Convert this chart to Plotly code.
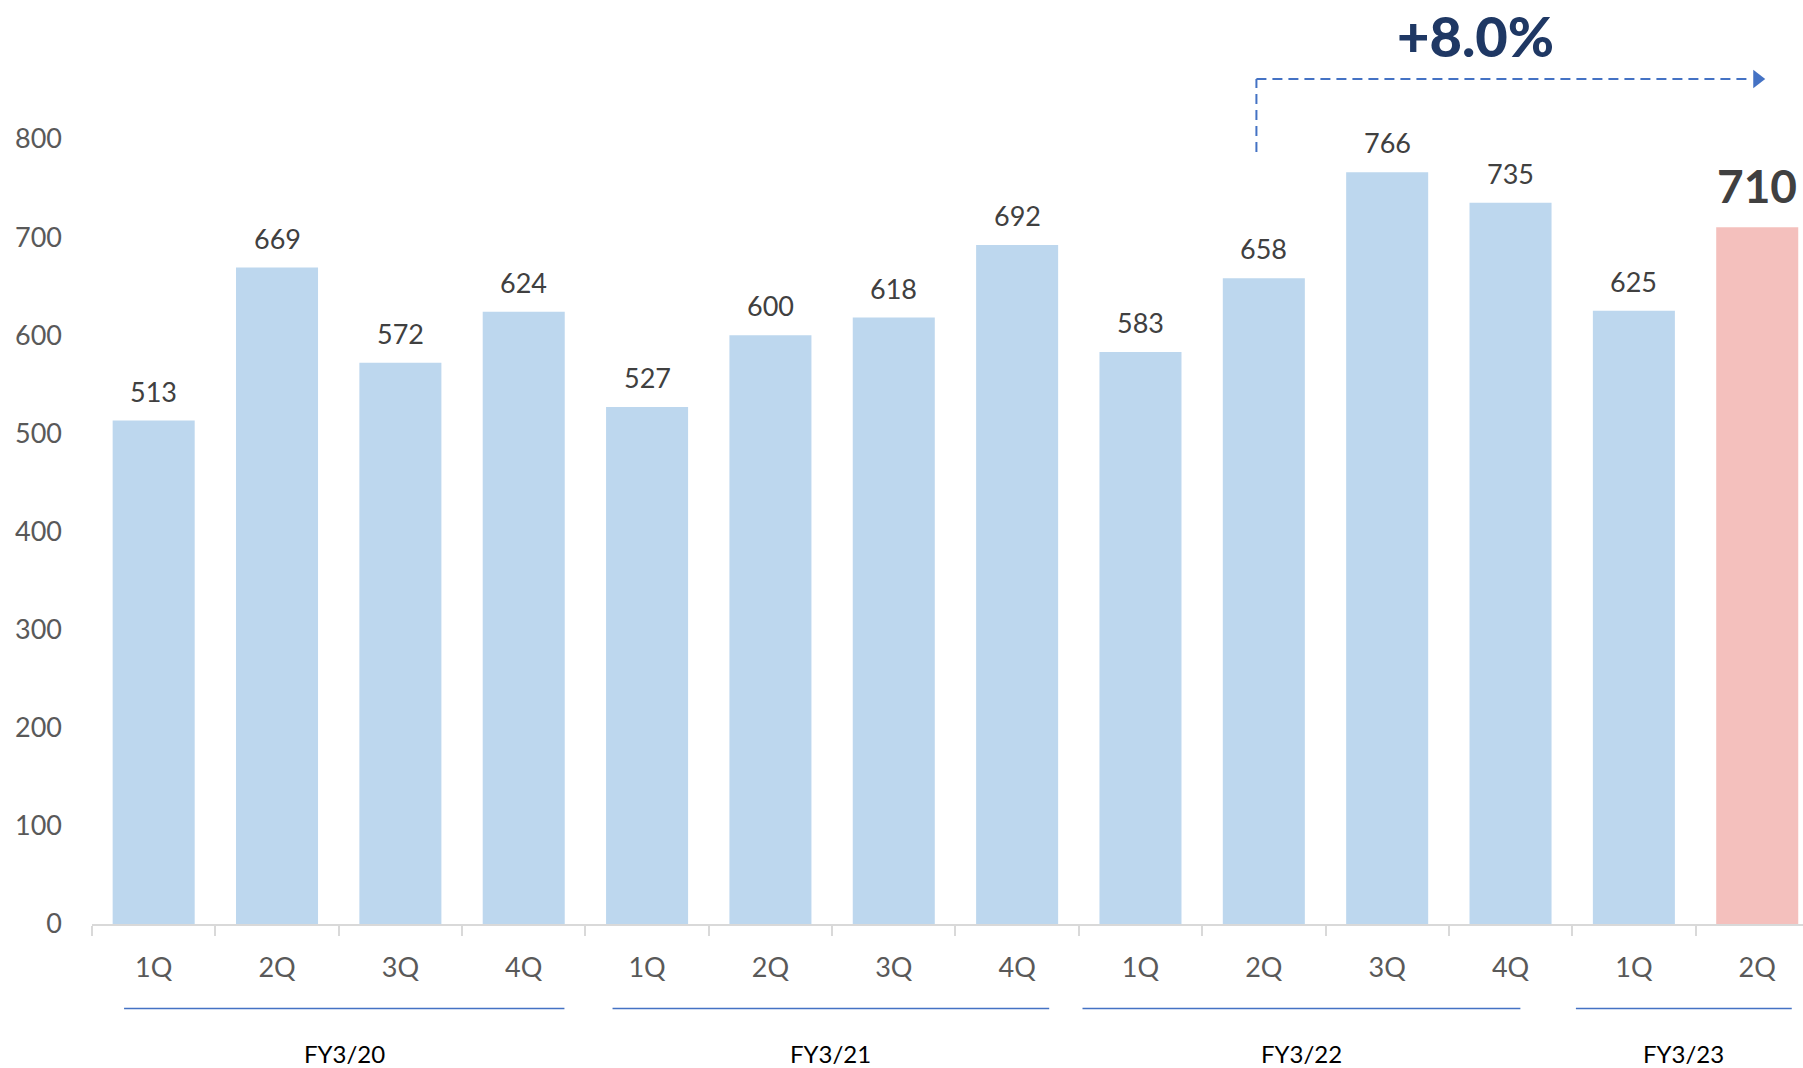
import plotly.graph_objects as go

# ---- data ----
quarters = ["1Q", "2Q", "3Q", "4Q", "1Q", "2Q", "3Q", "4Q", "1Q", "2Q", "3Q", "4Q", "1Q", "2Q"]
values = [513, 669, 572, 624, 527, 600, 618, 692, 583, 658, 766, 735, 625, 710]
fiscal_years = ["FY3/20", "FY3/21", "FY3/22", "FY3/23"]
fy_sizes = [4, 4, 4, 2]
growth_text = "+8.0%"
growth_from_idx = 9
growth_to_idx = 13
y_ticks = [0, 100, 200, 300, 400, 500, 600, 700, 800]

# ---- layout constants ----
W, H = 1803, 1068
ML, MB = 92, 144
CAT_PX = 123.35
PLOT_H = H - MB
PX_PER_UNIT = 0.98125
BLUE = "#BDD7EE"
PINK = "#F4C0BD"
FONT = "Lato"
# bracket-line overhang (in category units) before first / after last quarter of each year
LINE_PAD_START = [0.24, 0.28, 0.47, 0.47]
LINE_PAD_END = [0.33, 0.26, 0.08, 0.28]

n = len(values)
xs = list(range(n))
colors = [BLUE] * (n - 1) + [PINK]

def paper_y(ypix):
    return (PLOT_H - ypix) / PLOT_H

def data_y(ypix):
    return (PLOT_H - ypix) / PX_PER_UNIT

fig = go.Figure()
fig.add_trace(go.Bar(
    x=xs, y=values, marker=dict(color=colors, line=dict(width=0)),
    width=0.665, hoverinfo="x+y", showlegend=False,
))

annotations = []
for i, v in enumerate(values):
    last = i == n - 1
    annotations.append(dict(
        x=i, y=v, xref="x", yref="y",
        text=f"<b>{v}</b>" if last else str(v),
        showarrow=False, yanchor="bottom", xanchor="center",
        yshift=12 if last else 11,
        font=dict(family=FONT, size=46 if last else 27, color="#404040"),
    ))

shapes = []
start = 0
for k, (fy, size) in enumerate(zip(fiscal_years, fy_sizes)):
    first, lastc = start, start + size - 1
    x0 = first - LINE_PAD_START[k]
    x1 = lastc + LINE_PAD_END[k]
    shapes.append(dict(
        type="line", xref="x", yref="paper",
        x0=x0, x1=x1,
        y0=paper_y(1008.5), y1=paper_y(1008.5),
        line=dict(color="#4472C4", width=1.5),
    ))
    annotations.append(dict(
        x=(x0 + x1) / 2, y=paper_y(1053), xref="x", yref="paper",
        text=fy, showarrow=False, yanchor="middle", xanchor="center",
        font=dict(family=FONT, size=24, color="#000000"),
    ))
    start += size

# growth arrow
ax0 = growth_from_idx - 0.06
ax1 = growth_to_idx + 0.0
y_h = data_y(79)
y_v = data_y(152)
shapes.append(dict(type="line", xref="x", yref="y", x0=ax0, x1=ax0, y0=y_v, y1=y_h,
                   line=dict(color="#4472C4", width=2, dash="10px,6px")))
shapes.append(dict(type="line", xref="x", yref="y", x0=ax0, x1=ax1 - 0.07, y0=y_h, y1=y_h,
                   line=dict(color="#4472C4", width=2, dash="10px,6px")))
fig.add_trace(go.Scatter(
    x=[ax1], y=[y_h], mode="markers", cliponaxis=False,
    marker=dict(symbol="triangle-right", size=16, color="#4472C4"),
    hoverinfo="skip", showlegend=False,
))
annotations.append(dict(
    x=(ax0 + ax1) / 2 - 0.25, y=data_y(35), xref="x", yref="y",
    text=growth_text, showarrow=False, yanchor="middle", xanchor="center",
    font=dict(family=FONT, size=56, color="#1F3864", weight=900),
))

fig.update_layout(
    width=W, height=H,
    margin=dict(l=ML, r=0, t=0, b=MB, pad=0),
    plot_bgcolor="white", paper_bgcolor="white",
    bargap=0.3,
    xaxis=dict(
        range=[-0.5, -0.5 + (W - ML) / CAT_PX],
        tickmode="array", tickvals=xs, ticktext=quarters,
        ticks="", showgrid=False, zeroline=False,
        showline=True, linecolor="#D9D9D9", linewidth=2,
        tickfont=dict(family=FONT, size=27, color="#595959"),
        ticklabelstandoff=19,
        minor=dict(tickvals=[i - 0.5 for i in range(n + 1)], ticks="outside",
                   ticklen=10, tickcolor="#D9D9D9", tickwidth=2, showgrid=False),
        fixedrange=True,
    ),
    yaxis=dict(
        range=[0, PLOT_H / PX_PER_UNIT],
        tickmode="array", tickvals=y_ticks,
        showgrid=False, zeroline=False, showline=False, ticks="",
        tickfont=dict(family=FONT, size=27, color="#595959"),
        ticklabelstandoff=29,
        fixedrange=True,
    ),
    annotations=annotations,
    shapes=shapes,
)

fig.write_html(
    "out.html",
    config={"displayModeBar": False},
    post_script="document.body.style.margin='0';document.body.style.overflow='hidden';",
)
